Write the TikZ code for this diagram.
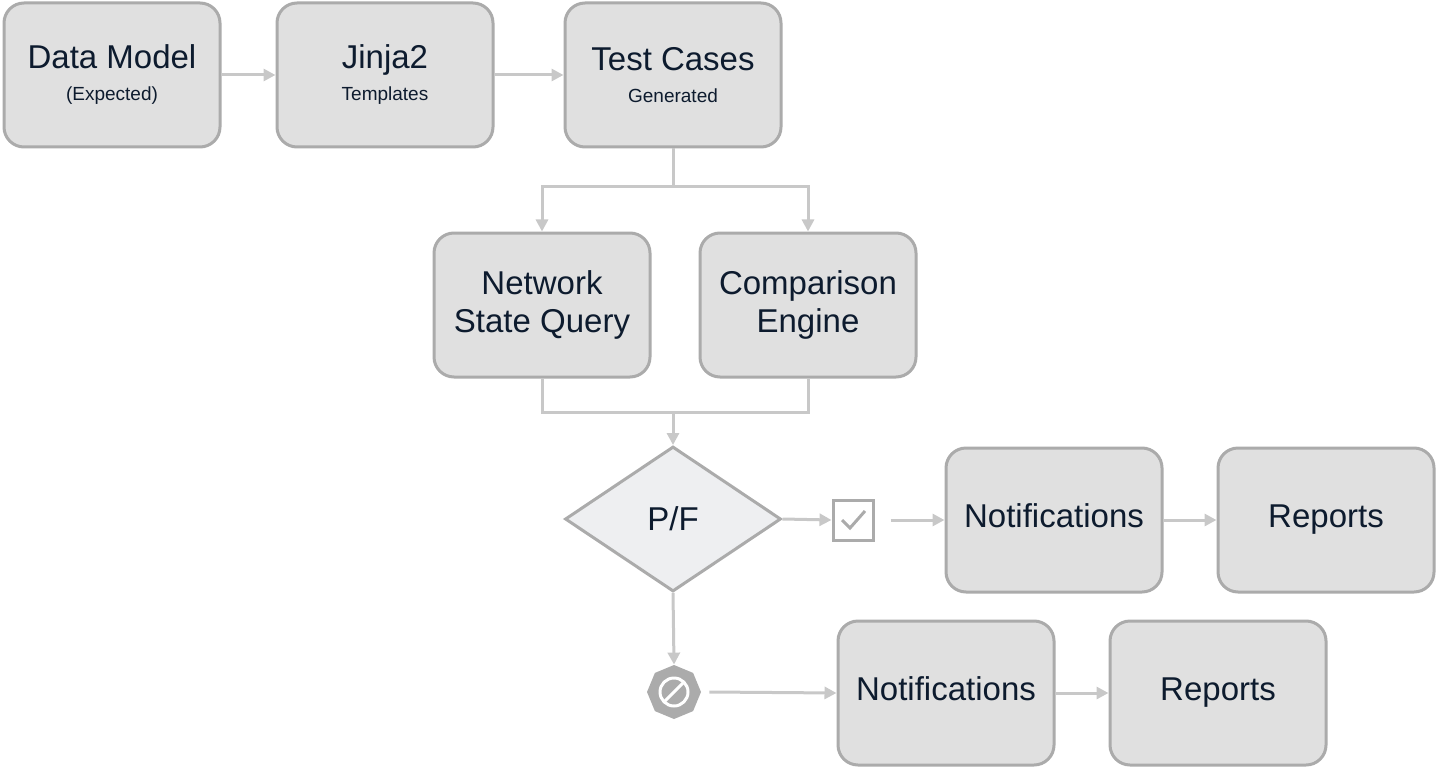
\documentclass[tikz,border=0pt]{standalone}
\usepackage{fontspec}
\setmainfont{Liberation Sans}
\usetikzlibrary{shapes.geometric,arrows.meta}
\definecolor{boxfill}{HTML}{E0E0E0}
\definecolor{boxline}{HTML}{ABABAB}
\definecolor{arr}{HTML}{C8C8C8}
\definecolor{txt}{HTML}{0D1B2E}
\definecolor{dfill}{HTML}{EEEFF1}
\begin{document}
\begin{tikzpicture}[x=0.5pt,y=-0.5pt,
 box/.style={draw=boxline,fill=boxfill,line width=1.5pt,rounded corners=10pt,minimum width=108pt,minimum height=72pt,align=center,text=txt,font=\fontsize{16.5}{19}\selectfont,inner sep=0pt},
 con/.style={draw=arr,line width=1.5pt,-{Triangle[length=6pt,width=6pt]}},
 ln/.style={draw=arr,line width=1.5pt}]
\useasboundingbox (0,0) rectangle (1438,770);
\node[box] (dm) at (112,75) {Data Model\\[-3pt]{\fontsize{9.5}{11}\selectfont (Expected)}};
\node[box] (j2) at (385,75) {Jinja2\\[-3pt]{\fontsize{9.5}{11}\selectfont Templates}};
\node[box] (tc) at (673,75) {Test Cases\\[-3pt]{\fontsize{9.5}{11}\selectfont Generated}};
\node[box] (nq) at (542,305) {Network\\State Query};
\node[box] (ce) at (808,305) {Comparison\\Engine};
\node[draw=boxline,fill=dfill,line width=1.5pt,diamond,minimum width=108pt,minimum height=72.5pt,inner sep=0pt,aspect=1.5,text=txt,font=\fontsize{16.5}{19}\selectfont] (pf) at (673,519) {P/F};
\node[box] (n1) at (1054,520) {\strut Notifications};
\node[box] (r1) at (1326,520) {\strut Reports};
\node[box] (n2) at (946,693) {\strut Notifications};
\node[box] (r2) at (1218,693) {\strut Reports};
% checkbox
\node[draw=boxline,line width=1.5pt,minimum size=20pt,inner sep=0pt] (ck) at (853,520) {};
\draw[boxline,line width=1.5pt] (842,520) -- (850,528) -- (865,511);
% stop
\node[regular polygon,regular polygon sides=8,fill=boxline,minimum size=27pt,inner sep=0pt,shape border rotate=22.5] (st) at (674,692) {};
\draw[white,line width=1.5pt] (674,692) circle (7pt);
\draw[white,line width=1.5pt] (665,701) -- (683,683);
% connectors
\draw[con] (dm) -- (j2);
\draw[con] (j2) -- (tc);
\coordinate (s1) at (673,187);
\draw[ln] (tc.south) -- (s1);
\draw[con] (s1) -| (nq.north);
\draw[con] (s1) -| (ce.north);
\coordinate (m1) at (673,412);
\draw[ln] (nq.south) |- (m1);
\draw[ln] (ce.south) |- (m1);
\draw[con] (m1) -- (pf.north);
\draw[con] (pf.east) -- (ck.west);
\draw[con] ([xshift=8pt]ck.east) -- (n1.west);
\draw[con] (n1) -- (r1);
\draw[con] (pf.south) -- (st.north);
\draw[con] ([xshift=4pt]st.east) -- (n2.west);
\draw[con] (n2) -- (r2);
\end{tikzpicture}
\end{document}
